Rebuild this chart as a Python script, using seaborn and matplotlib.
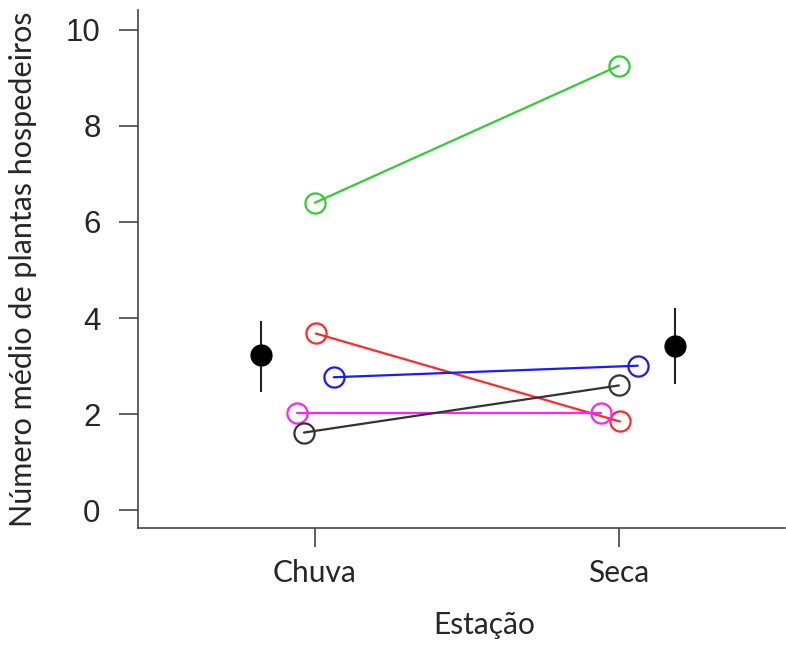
import pandas as pd
import matplotlib.pyplot as plt
import seaborn as sns

# Seasons on the x axis
estacoes = ['Chuva', 'Seca']

# mean number of host plants per group, in each season
verde = [6.40, 9.25]
vermelho = [3.68, 1.85]
azul = [2.77, 3.01]
magenta = [2.02, 2.02]
preto = [1.62, 2.60]

# small horizontal jitter used in the original so the circles don't overlap
desloc_chuva = [0.0, 0.003, 0.062, -0.060, -0.036]
desloc_seca = [0.0, 0.003, 0.062, -0.060, 0.0]

grupos = ['verde', 'vermelho', 'azul', 'magenta', 'preto']
cores = ['#33cc33', '#ff2a2a', '#1a1aff', '#ff22ff', '#333333']
valores = [verde, vermelho, azul, magenta, preto]

# overall means with error bar limits
media = [3.24, 3.41]
erro_inf = [2.47, 2.62]
erro_sup = [3.95, 4.22]
desloc_media = [-0.178, 0.184]

linhas = []
for g, vals, dc, ds in zip(grupos, valores, desloc_chuva, desloc_seca):
    linhas.append({'grupo': g, 'x': 0 + dc, 'y': vals[0]})
    linhas.append({'grupo': g, 'x': 1 + ds, 'y': vals[1]})
df = pd.DataFrame(linhas)

sns.set_style('ticks')
plt.rcParams['font.family'] = ['Liberation Sans', 'DejaVu Sans']

fig = plt.figure(figsize=(7.86, 6.45), dpi=100)
ax = fig.add_axes([0.1756, 0.181, 0.823, 0.803])

for g, cor in zip(grupos, cores):
    sns.lineplot(data=df[df['grupo'] == g], x='x', y='y', ax=ax, color=cor,
                 linewidth=1.6, marker='o', markersize=14.5,
                 markerfacecolor='none', markeredgecolor=cor,
                 markeredgewidth=1.6, legend=False)

# means with error bars
xm = [i + d for i, d in enumerate(desloc_media)]
yerr = [[m - lo for m, lo in zip(media, erro_inf)],
        [hi - m for m, hi in zip(media, erro_sup)]]
ax.errorbar(xm, media, yerr=yerr, fmt='o', color='black', ecolor='#222222',
            elinewidth=1.5, capsize=0, markersize=15, zorder=5)

ax.set_xlim(-0.582, 1.546)
ax.set_ylim(-0.37, 10.4)
ax.set_yticks([0, 2, 4, 6, 8, 10])
ax.set_xticks([0, 1])
ax.set_xticklabels(estacoes, family=['Lato', 'DejaVu Sans'], fontsize=21.5)
ax.tick_params(axis='y', labelsize=22.5, length=14, width=1.2, color='#444444', pad=13)
ax.tick_params(axis='x', length=14, width=1.2, color='#444444', pad=8)

ax.set_xlabel('Estação', family=['Lato', 'DejaVu Sans'], fontsize=21.5)
ax.set_ylabel('Número médio de plantas hospedeiros', family=['Lato', 'DejaVu Sans'], fontsize=22)
ax.xaxis.set_label_coords(0.535, -0.16)
ax.yaxis.set_label_coords(-0.156, 0.5)

sns.despine(ax=ax)
for s in ['left', 'bottom']:
    ax.spines[s].set_color('#444444')
    ax.spines[s].set_linewidth(1.2)

plt.savefig('out.png', dpi=100)
plt.close()
